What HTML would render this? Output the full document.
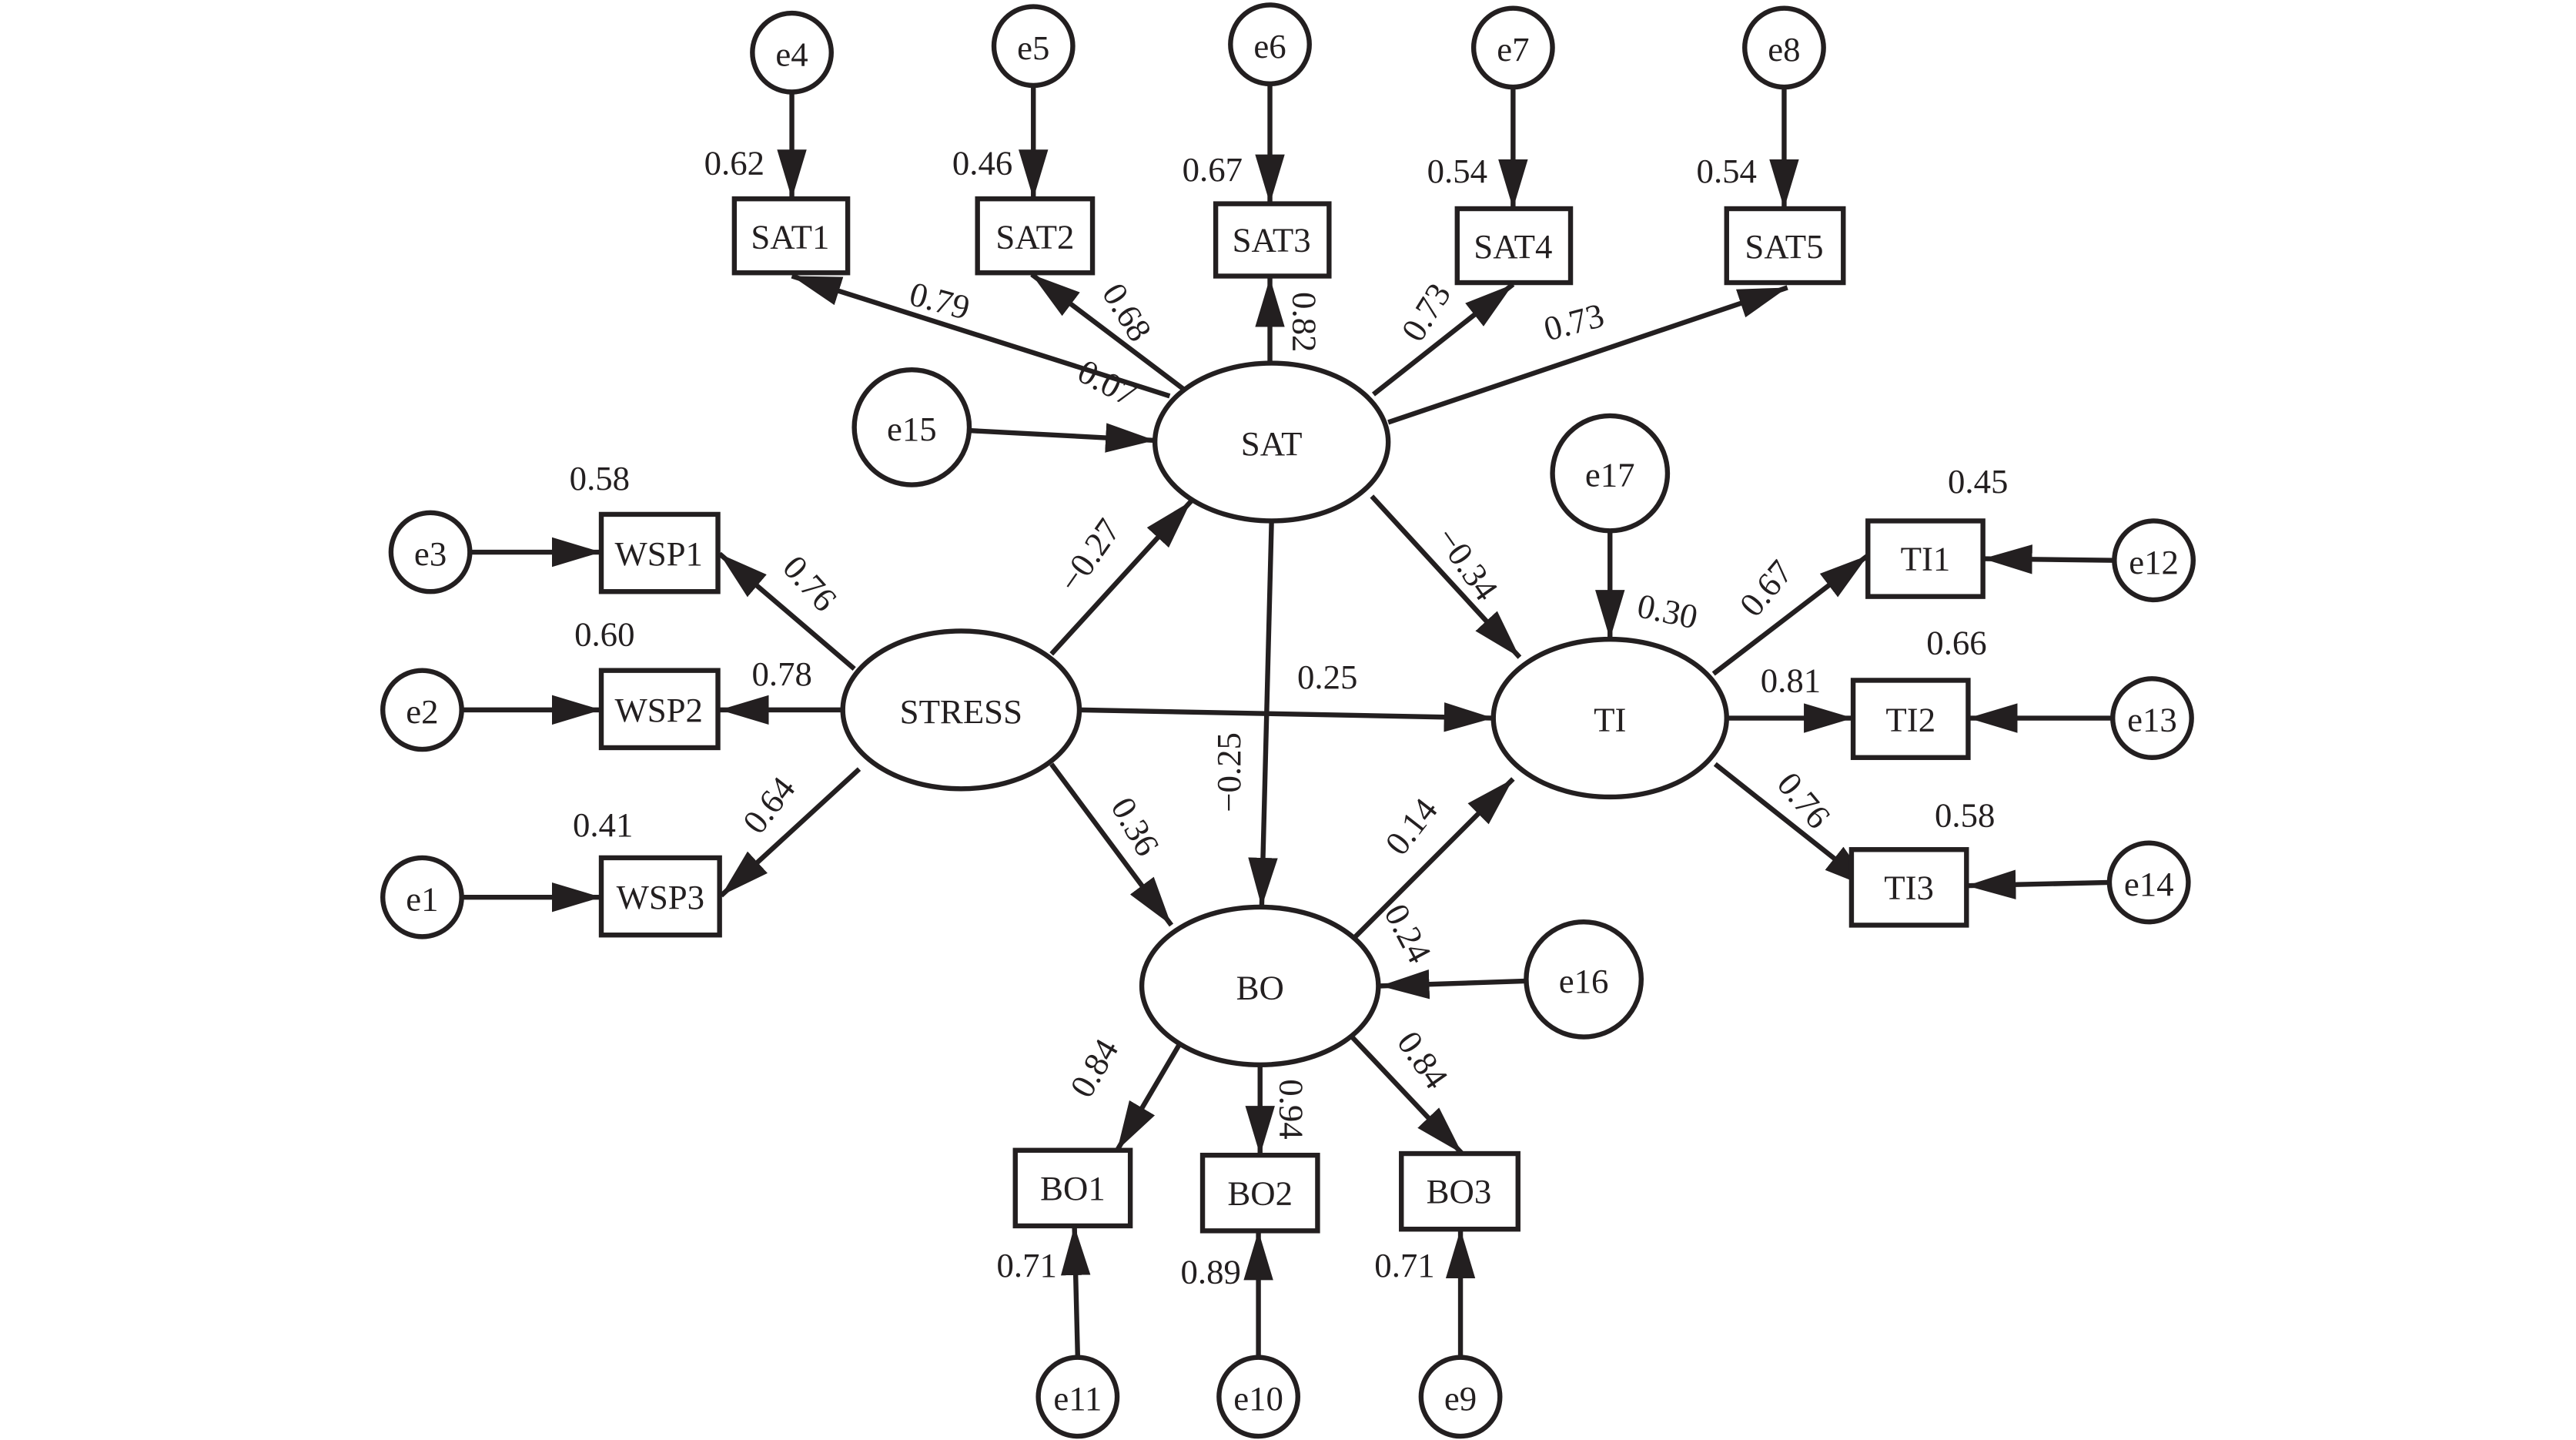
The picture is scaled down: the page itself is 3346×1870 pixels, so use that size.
<!DOCTYPE html>
<html><head><meta charset="utf-8"><style>
html,body{margin:0;padding:0;background:#fff;}
svg{display:block;}
text{font-family:"Liberation Serif",serif;fill:#231f20;}
</style></head><body>
<svg width="3346" height="1870" viewBox="0 0 1568 876.3" preserveAspectRatio="none" xmlns="http://www.w3.org/2000/svg">
<defs>
<marker id="a" markerUnits="userSpaceOnUse" markerWidth="32" markerHeight="22" refX="30" refY="10" orient="auto">
<path d="M0,1 L30,10 L0,19 Z" fill="#231f20"/>
</marker>
</defs>
<g stroke="#231f20" stroke-width="3" fill="none" marker-end="url(#a)">
<!-- e -> SAT indicators -->
<line x1="482" y1="56" x2="482" y2="121"/>
<line x1="629" y1="52" x2="629" y2="121"/>
<line x1="773" y1="51" x2="773" y2="124"/>
<line x1="921" y1="53" x2="921" y2="127"/>
<line x1="1086" y1="53" x2="1086" y2="127"/>
<!-- SAT -> indicators -->
<line x1="712" y1="241" x2="482" y2="168"/>
<line x1="722" y1="238" x2="628" y2="167"/>
<line x1="773" y1="221" x2="773" y2="169"/>
<line x1="836" y1="240" x2="921" y2="173"/>
<line x1="845" y1="257" x2="1088" y2="175"/>
<line x1="590" y1="262" x2="703" y2="268"/>
<!-- structural -->
<line x1="640" y1="398" x2="725" y2="305"/>
<line x1="835" y1="302" x2="925" y2="400"/>
<line x1="774" y1="317" x2="768" y2="552"/>
<line x1="657" y1="432" x2="909" y2="437"/>
<line x1="640" y1="465" x2="713" y2="563"/>
<line x1="825" y1="570" x2="921" y2="474"/>
<line x1="929" y1="597" x2="840" y2="600"/>
<line x1="980" y1="323" x2="980" y2="389"/>
<!-- STRESS -->
<line x1="520" y1="407" x2="438" y2="337"/>
<line x1="513" y1="432" x2="438" y2="432"/>
<line x1="523" y1="468" x2="439" y2="545"/>
<line x1="286" y1="336" x2="366" y2="336"/>
<line x1="281" y1="432" x2="366" y2="432"/>
<line x1="281" y1="546" x2="366" y2="546"/>
<!-- TI -->
<line x1="1043" y1="410" x2="1137" y2="338"/>
<line x1="1051" y1="437" x2="1128" y2="437"/>
<line x1="1044" y1="465" x2="1140" y2="541"/>
<line x1="1287" y1="341" x2="1207" y2="340"/>
<line x1="1286" y1="437" x2="1198" y2="437"/>
<line x1="1284" y1="537" x2="1197" y2="539"/>
<!-- BO -->
<line x1="720" y1="632" x2="680" y2="700"/>
<line x1="767" y1="648" x2="767" y2="703"/>
<line x1="822" y1="630" x2="890" y2="702"/>
<line x1="656" y1="826" x2="654" y2="746"/>
<line x1="766" y1="826" x2="766" y2="749"/>
<line x1="889" y1="826" x2="889" y2="748"/>
</g>
<g stroke="#231f20" stroke-width="3" fill="#fff">
<circle cx="482" cy="32" r="24"/><circle cx="629" cy="28" r="24"/><circle cx="773" cy="27" r="24"/><circle cx="921" cy="29" r="24"/><circle cx="1086" cy="29" r="24"/>
<circle cx="555" cy="260" r="35"/><circle cx="980" cy="288" r="35"/><circle cx="964" cy="596" r="35"/>
<circle cx="262" cy="336" r="24"/><circle cx="257" cy="432" r="24"/><circle cx="257" cy="546" r="24"/>
<circle cx="1311" cy="341" r="24"/><circle cx="1310" cy="437" r="24"/><circle cx="1308" cy="537" r="24"/>
<circle cx="656" cy="850" r="24"/><circle cx="766" cy="850" r="24"/><circle cx="889" cy="850" r="24"/>
<ellipse cx="774" cy="269" rx="71" ry="48"/><ellipse cx="585" cy="432" rx="72" ry="48"/>
<ellipse cx="980" cy="437" rx="71" ry="48"/><ellipse cx="767" cy="600" rx="72" ry="48"/>
<rect x="447" y="121" width="69" height="45"/><rect x="595" y="121" width="70" height="45"/><rect x="740" y="124" width="69" height="44"/><rect x="887" y="127" width="69" height="45"/><rect x="1051" y="127" width="71" height="45"/>
<rect x="366" y="313" width="71" height="47"/><rect x="366" y="408" width="71" height="47"/><rect x="366" y="522" width="72" height="47"/>
<rect x="1137" y="317" width="70" height="46"/><rect x="1128" y="414" width="70" height="47"/><rect x="1127" y="517" width="70" height="46"/>
<rect x="618" y="700" width="70" height="46"/><rect x="732" y="703" width="70" height="46"/><rect x="853" y="702" width="71" height="46"/>
</g>
<g font-size="21" text-anchor="middle" dominant-baseline="central">
<text x="482" y="33">e4</text><text x="629" y="29">e5</text><text x="773" y="28">e6</text><text x="921" y="30">e7</text><text x="1086" y="30">e8</text>
<text x="555" y="261">e15</text><text x="980" y="289">e17</text><text x="964" y="597">e16</text>
<text x="262" y="337">e3</text><text x="257" y="433">e2</text><text x="257" y="547">e1</text>
<text x="1311" y="342">e12</text><text x="1310" y="438">e13</text><text x="1308" y="538">e14</text>
<text x="656" y="851">e11</text><text x="766" y="851">e10</text><text x="889" y="851">e9</text>
<text x="774" y="270">SAT</text><text x="585" y="433">STRESS</text><text x="980" y="438">TI</text><text x="767" y="601">BO</text>
<text x="481" y="144">SAT1</text><text x="630" y="144">SAT2</text><text x="774" y="146">SAT3</text><text x="921" y="150">SAT4</text><text x="1086" y="150">SAT5</text>
<text x="401" y="337">WSP1</text><text x="401" y="432">WSP2</text><text x="402" y="546">WSP3</text>
<text x="1172" y="340">TI1</text><text x="1163" y="438">TI2</text><text x="1162" y="540">TI3</text>
<text x="653" y="723">BO1</text><text x="767" y="726">BO2</text><text x="888" y="725">BO3</text>
<!-- plain labels -->
<text x="447" y="99">0.62</text><text x="598" y="99">0.46</text><text x="738" y="103">0.67</text><text x="887" y="104">0.54</text><text x="1051" y="104">0.54</text>
<text x="365" y="291">0.58</text><text x="368" y="386">0.60</text><text x="367" y="502">0.41</text>
<text x="1204" y="293">0.45</text><text x="1191" y="391">0.66</text><text x="1196" y="496">0.58</text>
<text x="625" y="770">0.71</text><text x="737" y="774">0.89</text><text x="855" y="770">0.71</text>
<text x="476" y="410">0.78</text><text x="1090" y="414">0.81</text><text x="808" y="412">0.25</text>
<!-- rotated labels -->
<text transform="translate(572,183) rotate(15)">0.79</text>
<text transform="translate(686,190) rotate(58)">0.68</text>
<text transform="translate(794,196) rotate(90)">0.82</text>
<text transform="translate(868,190) rotate(-58)">0.73</text>
<text transform="translate(958,196) rotate(-15)">0.73</text>
<text transform="translate(674,233) rotate(28)">0.07</text>
<text transform="translate(663,338) rotate(-55)">−0.27</text>
<text transform="translate(493,355) rotate(48)">0.76</text>
<text transform="translate(468,490) rotate(-52)">0.64</text>
<text transform="translate(893,343) rotate(55)">−0.34</text>
<text transform="translate(1015,372) rotate(12)">0.30</text>
<text transform="translate(1075,358) rotate(-50)">0.67</text>
<text transform="translate(1098,487) rotate(50)">0.76</text>
<text transform="translate(748,470) rotate(-90)">−0.25</text>
<text transform="translate(691,503) rotate(60)">0.36</text>
<text transform="translate(859,503) rotate(-52)">0.14</text>
<text transform="translate(857,568) rotate(62)">0.24</text>
<text transform="translate(666,650) rotate(-60)">0.84</text>
<text transform="translate(786,675) rotate(90)">0.94</text>
<text transform="translate(866,645) rotate(55)">0.84</text>
</g>
</svg>
</body></html>
